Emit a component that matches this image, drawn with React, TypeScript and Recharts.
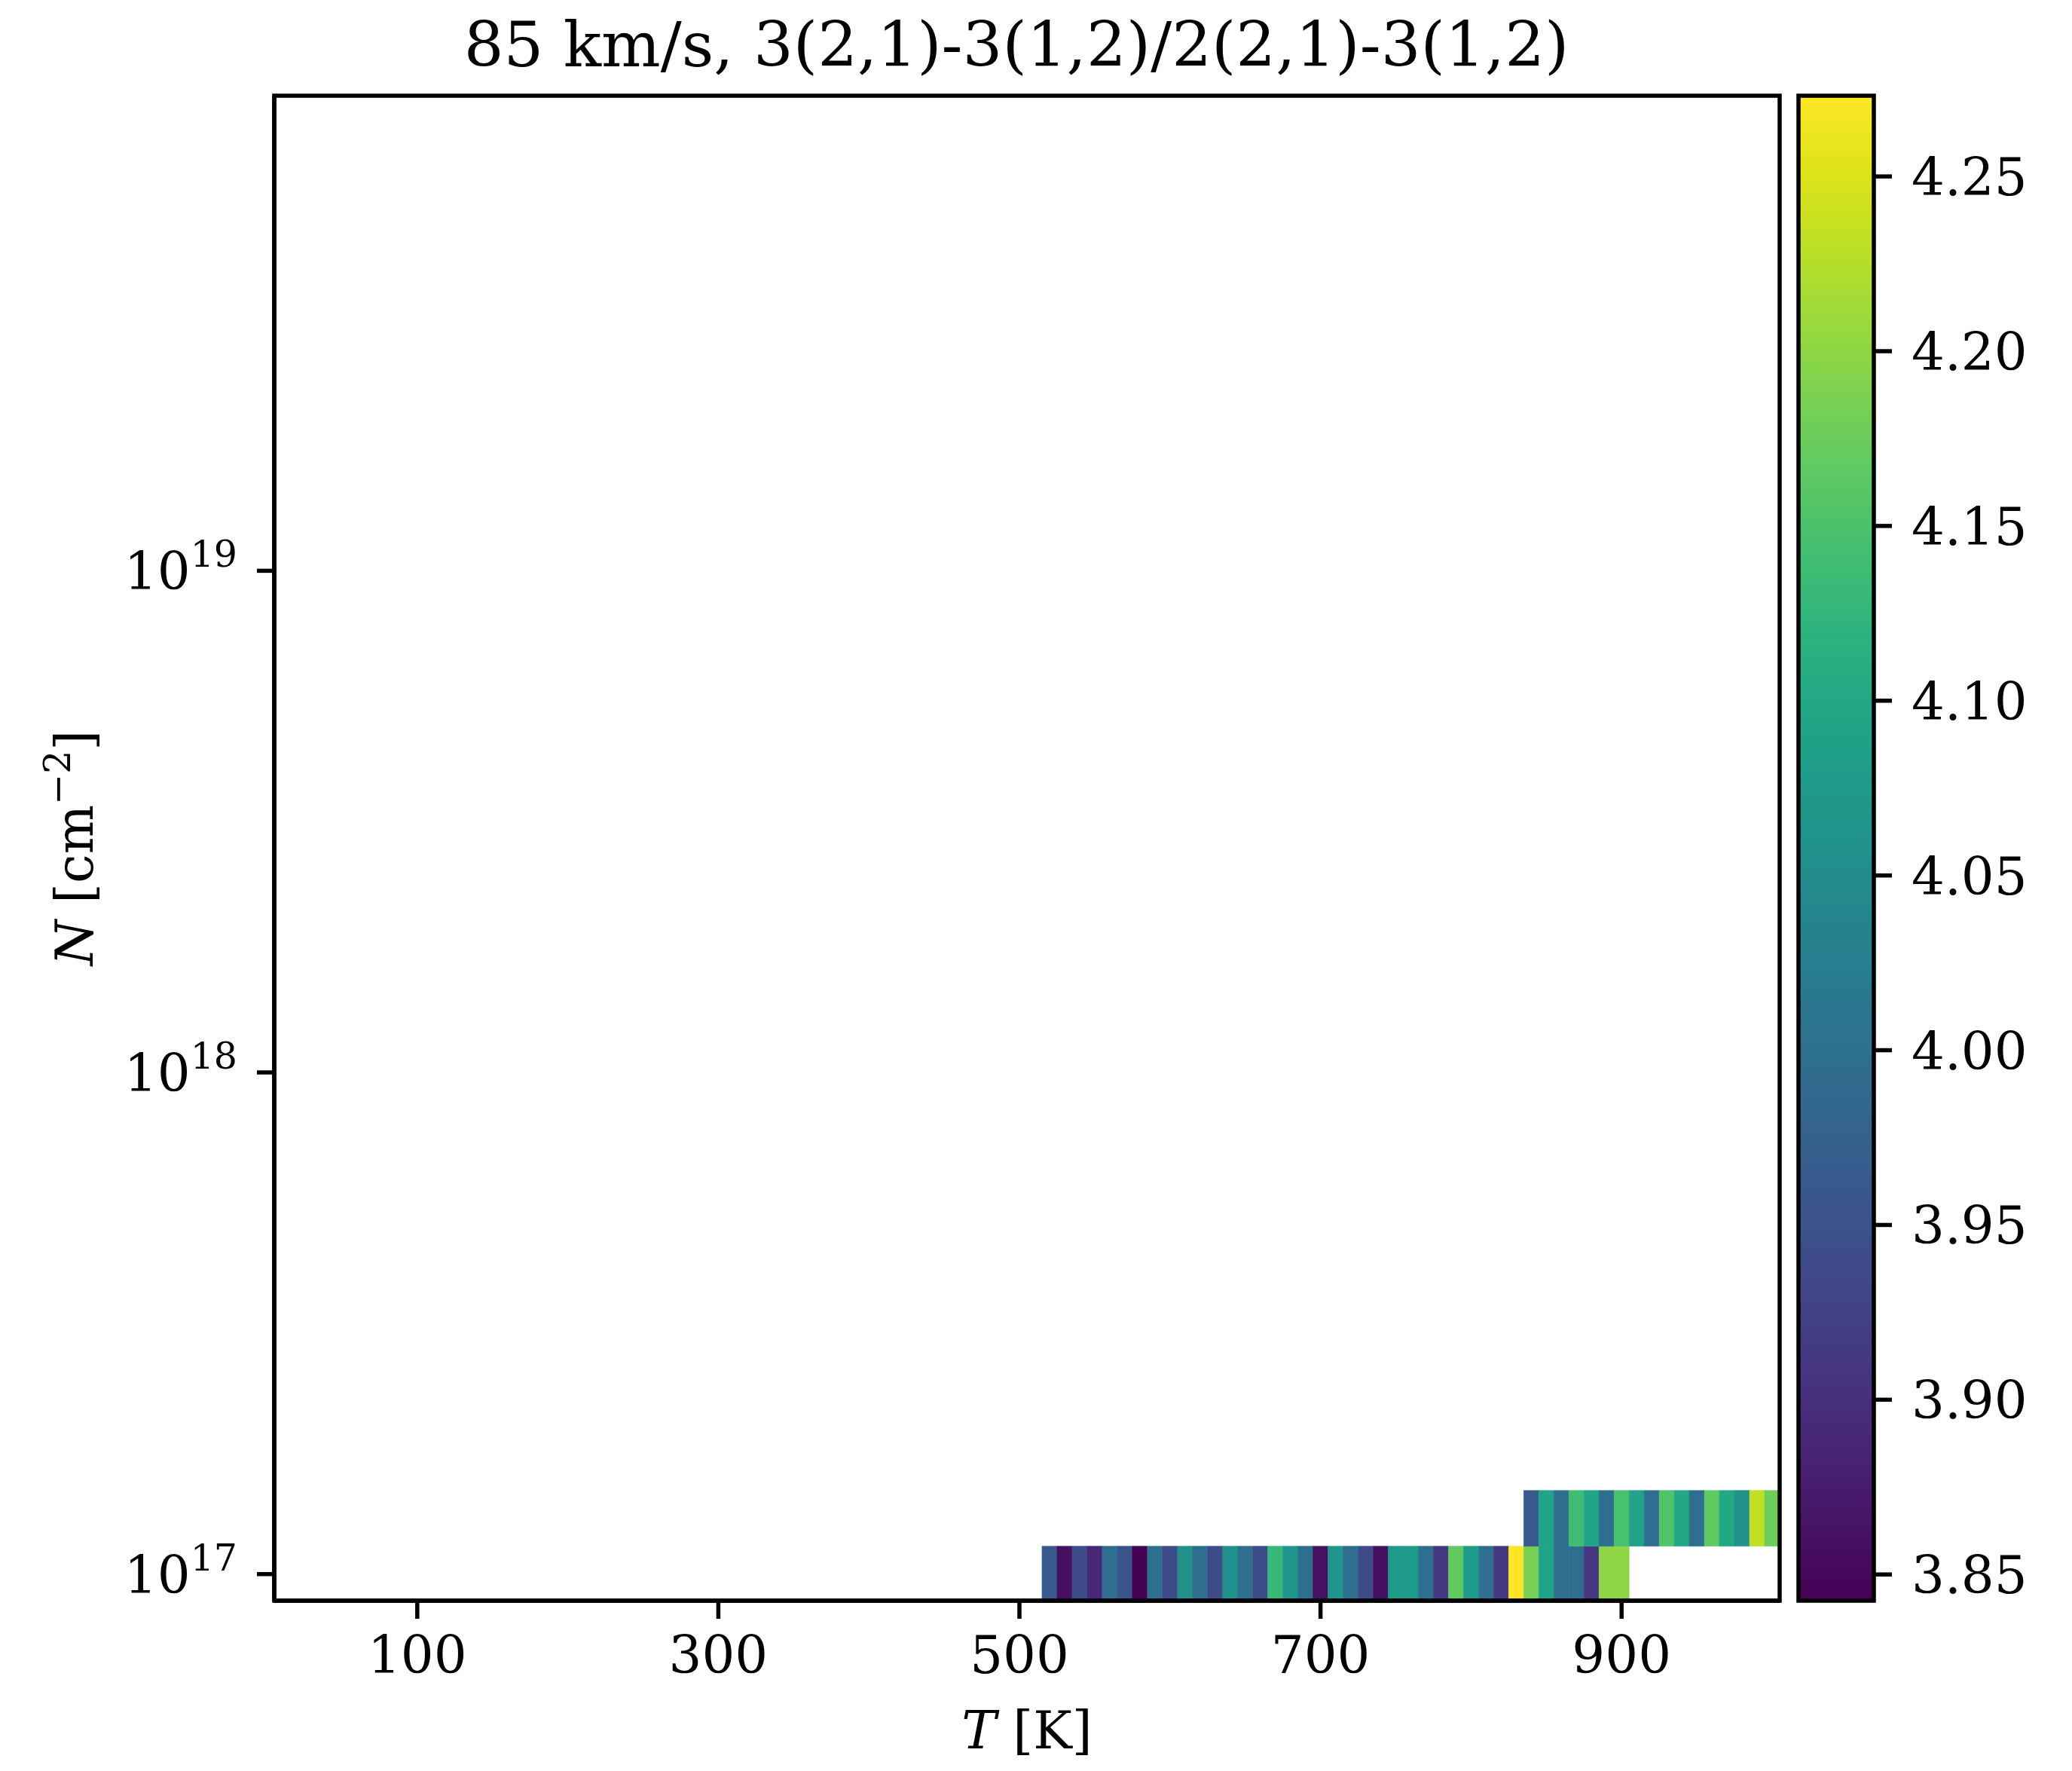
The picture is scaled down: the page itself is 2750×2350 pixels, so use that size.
import React from 'react';
import {ComposedChart, XAxis, YAxis, ReferenceArea} from 'recharts';

// temperature grid (K) of the two filled rows
const tempsRow0 = [
  520, 530, 540, 550, 560, 570, 580, 590, 600, 610, 620, 630, 640, 650, 660, 670, 680, 690, 700, 710,
  720, 730, 740, 750, 760, 770, 780, 790, 800, 810, 820, 830, 840, 850, 860, 870, 880, 890, 900,
];
const tempsRow1 = [840, 850, 860, 870, 880, 890, 900, 910, 920, 930, 940, 950, 960, 970, 980, 990, 1000];

// column density of each row (cm^-2)
const rowN = [1.0e17, 1.2915e17];
// grid step in N (cells are 1/9 dex tall)
const N_STEP = 1.2915;
const T_STEP = 10;

// line ratio in each cell
const ratioRow0 = [
  3.961, 3.86, 3.939, 3.89, 3.997, 3.953, 3.843, 3.997, 3.939, 4.058, 3.997, 3.939, 4.058, 3.997,
  3.939, 4.131, 4.066, 3.997, 3.862, 4.066, 3.997, 3.939, 3.86, 4.079, 4.079, 3.997, 3.911, 4.168,
  4.079, 3.997, 3.911, 4.273, 4.183, 4.092, 3.997, 3.997, 3.911, 4.2, 4.2,
];
const ratioRow1 = [
  3.961, 4.092, 3.997, 4.14, 4.092, 3.997, 4.146, 4.092, 3.997, 4.155, 4.101, 3.997, 4.165, 4.101,
  4.058, 4.232, 4.176,
];

const xTicks = [100, 300, 500, 700, 900];
const yTicks = [1e17, 1e18, 1e19];
const cbarTicks = [3.85, 3.9, 3.95, 4.0, 4.05, 4.1, 4.15, 4.2, 4.25];

const V_MIN = 3.8425;
const V_MAX = 4.2731;
const T_DOMAIN: [number, number] = [5, 1005];
const N_DOMAIN: [number, number] = [Math.pow(10, 16.947), Math.pow(10, 19.947)];

const VIRIDIS = [
  '#440154', '#471365', '#482475', '#463480', '#414487', '#3b528b', '#355f8d', '#2f6c8e', '#2a788e',
  '#25848e', '#21918c', '#1e9c89', '#22a884', '#2fb47c', '#44bf70', '#5ec962', '#7ad151', '#9bd93c',
  '#bddf26', '#dfe318', '#fde725',
];

function hexToRgb(h: string) {
  return [1, 3, 5].map(i => parseInt(h.slice(i, i + 2), 16));
}

function viridis(v: number) {
  const f = Math.max(0, Math.min(1, (v - V_MIN) / (V_MAX - V_MIN)));
  const pos = f * (VIRIDIS.length - 1);
  const i = Math.min(Math.floor(pos), VIRIDIS.length - 2);
  const t = pos - i;
  const a = hexToRgb(VIRIDIS[i]);
  const b = hexToRgb(VIRIDIS[i + 1]);
  const c = a.map((x, k) => Math.round(x + (b[k] - x) * t));
  return `rgb(${c[0]},${c[1]},${c[2]})`;
}

const cells = [
  ...tempsRow0.map((T, i) => ({T, N: rowN[0], v: ratioRow0[i]})),
  ...tempsRow1.map((T, i) => ({T, N: rowN[1], v: ratioRow1[i]})),
];

const FONT = '"DejaVu Serif", serif';
const LW = 5.5;

const XTick = ({x, y, payload}: any) => (
  <text x={x} y={y + 62} textAnchor="middle" fontFamily={FONT} fontSize={69} fill="#000">
    {payload.value}
  </text>
);

const YTick = ({x, y, payload}: any) => {
  const exp = Math.round(Math.log10(payload.value));
  return (
    <text x={x} y={y + 25} textAnchor="end" fontFamily={FONT} fontSize={69} fill="#000">
      <tspan>10</tspan>
      <tspan dy={-30} fontSize={49}>
        {exp}
      </tspan>
    </text>
  );
};

const CbarTick = ({x, y, payload}: any) => (
  <text x={x} y={y + 25} textAnchor="start" fontFamily={FONT} fontSize={69} fill="#000">
    {payload.value.toFixed(2)}
  </text>
);

export default function App() {
  return (
    <div style={{position: 'absolute', left: 0, top: 0, width: 2750, height: 2350, background: '#fff'}}>
      <svg width={0} height={0} style={{position: 'absolute'}}>
        <defs>
          <linearGradient id="viridisBar" x1="0" y1="1" x2="0" y2="0">
            {VIRIDIS.map((c, i) => (
              <stop key={i} offset={i / (VIRIDIS.length - 1)} stopColor={c} />
            ))}
          </linearGradient>
        </defs>
      </svg>

      <div style={{position: 'absolute', left: 0, top: 0}}>
        <ComposedChart
          width={2400}
          height={2350}
          data={cells}
          margin={{top: 127, right: 38, bottom: 126, left: 164}}
        >
          <XAxis
            dataKey="T"
            type="number"
            domain={T_DOMAIN}
            allowDataOverflow
            ticks={xTicks}
            height={100}
            tickSize={24}
            tickMargin={10}
            tick={<XTick />}
            axisLine={{stroke: '#000', strokeWidth: LW}}
            tickLine={{stroke: '#000', strokeWidth: LW}}
          />
          <YAxis
            dataKey="N"
            type="number"
            scale="log"
            domain={N_DOMAIN}
            allowDataOverflow
            ticks={yTicks}
            width={200}
            tickSize={23}
            tickMargin={26}
            tick={<YTick />}
            axisLine={{stroke: '#000', strokeWidth: LW}}
            tickLine={{stroke: '#000', strokeWidth: LW}}
          />
          {cells.map((c, i) => {
            const col = viridis(c.v);
            return (
              <ReferenceArea
                key={i}
                x1={c.T - T_STEP / 2}
                x2={c.T + T_STEP / 2}
                y1={c.N / Math.sqrt(N_STEP)}
                y2={c.N * Math.sqrt(N_STEP)}
                fill={col}
                fillOpacity={1}
                stroke={col}
                strokeWidth={0.6}
                ifOverflow="hidden"
              />
            );
          })}
          {/* axes frame */}
          <ReferenceArea
            x1={T_DOMAIN[0]}
            x2={T_DOMAIN[1]}
            y1={N_DOMAIN[0]}
            y2={N_DOMAIN[1]}
            fill="none"
            stroke="#000"
            strokeWidth={LW}
            ifOverflow="visible"
          />
        </ComposedChart>
      </div>

      <div style={{position: 'absolute', left: 2300, top: 0}}>
        <ComposedChart
          width={400}
          height={2350}
          data={[{x: 0}, {x: 1}]}
          margin={{top: 127, right: 0, bottom: 226, left: 87}}
        >
          <XAxis dataKey="x" type="number" domain={[0, 1]} allowDataOverflow hide />
          <YAxis
            orientation="right"
            type="number"
            domain={[V_MIN, V_MAX]}
            allowDataOverflow
            ticks={cbarTicks}
            width={213}
            tickSize={24}
            tickMargin={26}
            tick={<CbarTick />}
            axisLine={false}
            tickLine={{stroke: '#000', strokeWidth: LW}}
          />
          <ReferenceArea
            x1={0}
            x2={1}
            y1={V_MIN}
            y2={V_MAX}
            fill="url(#viridisBar)"
            fillOpacity={1}
            stroke="#000"
            strokeWidth={LW}
            ifOverflow="visible"
          />
        </ComposedChart>
      </div>

      <svg width={2750} height={2350} style={{position: 'absolute', left: 0, top: 0, pointerEvents: 'none'}}>
        <text x={1349} y={88} textAnchor="middle" fontFamily={FONT} fontSize={83} fill="#000">
          85 km/s, 3(2,1)-3(1,2)/2(2,1)-3(1,2)
        </text>
        <text x={1363} y={2320} textAnchor="middle" fontFamily={FONT} fontSize={69} fill="#000">
          <tspan fontStyle="italic">T</tspan> [K]
        </text>
        <text transform="translate(123,1125) rotate(-90)" textAnchor="middle" fontFamily={FONT} fontSize={69} fill="#000">
          <tspan fontStyle="italic">N</tspan> [cm<tspan dy={-30} fontSize={49}>−2</tspan>
          <tspan dy={30}>]</tspan>
        </text>
      </svg>
    </div>
  );
}
